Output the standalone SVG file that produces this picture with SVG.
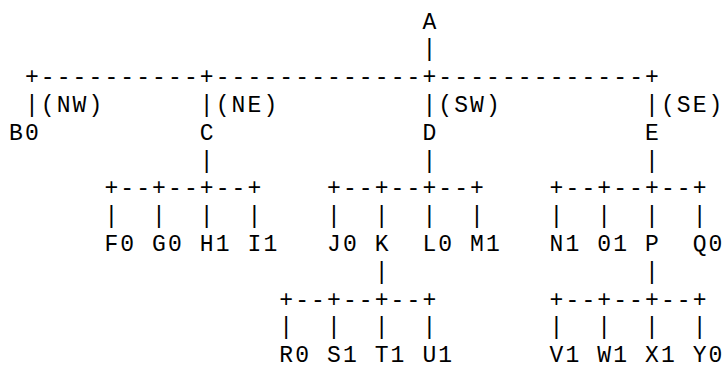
<svg xmlns="http://www.w3.org/2000/svg" width="725" height="370" viewBox="0 0 725 370" xml:space="preserve">
<style>
text { font-family: "Liberation Mono", "Courier New", monospace; font-size: 23px; letter-spacing: 2.1px; fill: #000; white-space: pre; }
</style>
<rect width="725" height="370" fill="#fff"/>
<g id="connectors">
<text x="422.4" y="56.3">|</text>
<text x="24.9" y="84.1">+----------+-------------+-------------+</text>
<text x="24.9" y="111.9">|</text>
<text x="199.8" y="111.9">|</text>
<text x="422.4" y="111.9">|</text>
<text x="645" y="111.9">|</text>
<text x="199.8" y="167.5">|</text>
<text x="422.4" y="167.5">|</text>
<text x="645" y="167.5">|</text>
<text x="104.4" y="195.3">+--+--+--+</text>
<text x="327" y="195.3">+--+--+--+</text>
<text x="549.6" y="195.3">+--+--+--+</text>
<text x="104.4" y="223.1">|  |  |  |</text>
<text x="327" y="223.1">|  |  |  |</text>
<text x="549.6" y="223.1">|  |  |  |</text>
<text x="374.7" y="278.7">|</text>
<text x="645" y="278.7">|</text>
<text x="279.3" y="306.5">+--+--+--+</text>
<text x="549.6" y="306.5">+--+--+--+</text>
<text x="279.3" y="334.3">|  |  |  |</text>
<text x="549.6" y="334.3">|  |  |  |</text>
</g>
<g id="edge-labels">
<text x="40.8" y="111.9">(NW)</text>
<text x="215.7" y="111.9">(NE)</text>
<text x="438.3" y="111.9">(SW)</text>
<text x="660.9" y="111.9">(SE)</text>
</g>
<g id="node-A"><text x="422.4" y="28.5">A</text></g>
<g id="node-B0"><text x="9" y="139.7">B0</text></g>
<g id="node-C"><text x="199.8" y="139.7">C</text></g>
<g id="node-D"><text x="422.4" y="139.7">D</text></g>
<g id="node-E"><text x="645" y="139.7">E</text></g>
<g id="node-F0"><text x="104.4" y="250.9">F0</text></g>
<g id="node-G0"><text x="152.1" y="250.9">G0</text></g>
<g id="node-H1"><text x="199.8" y="250.9">H1</text></g>
<g id="node-I1"><text x="247.5" y="250.9">I1</text></g>
<g id="node-J0"><text x="327" y="250.9">J0</text></g>
<g id="node-K"><text x="374.7" y="250.9">K</text></g>
<g id="node-L0"><text x="422.4" y="250.9">L0</text></g>
<g id="node-M1"><text x="470.1" y="250.9">M1</text></g>
<g id="node-N1"><text x="549.6" y="250.9">N1</text></g>
<g id="node-01"><text x="597.3" y="250.9">01</text></g>
<g id="node-P"><text x="645" y="250.9">P</text></g>
<g id="node-Q0"><text x="692.7" y="250.9">Q0</text></g>
<g id="node-R0"><text x="279.3" y="362.1">R0</text></g>
<g id="node-S1"><text x="327" y="362.1">S1</text></g>
<g id="node-T1"><text x="374.7" y="362.1">T1</text></g>
<g id="node-U1"><text x="422.4" y="362.1">U1</text></g>
<g id="node-V1"><text x="549.6" y="362.1">V1</text></g>
<g id="node-W1"><text x="597.3" y="362.1">W1</text></g>
<g id="node-X1"><text x="645" y="362.1">X1</text></g>
<g id="node-Y0"><text x="692.7" y="362.1">Y0</text></g>
</svg>
